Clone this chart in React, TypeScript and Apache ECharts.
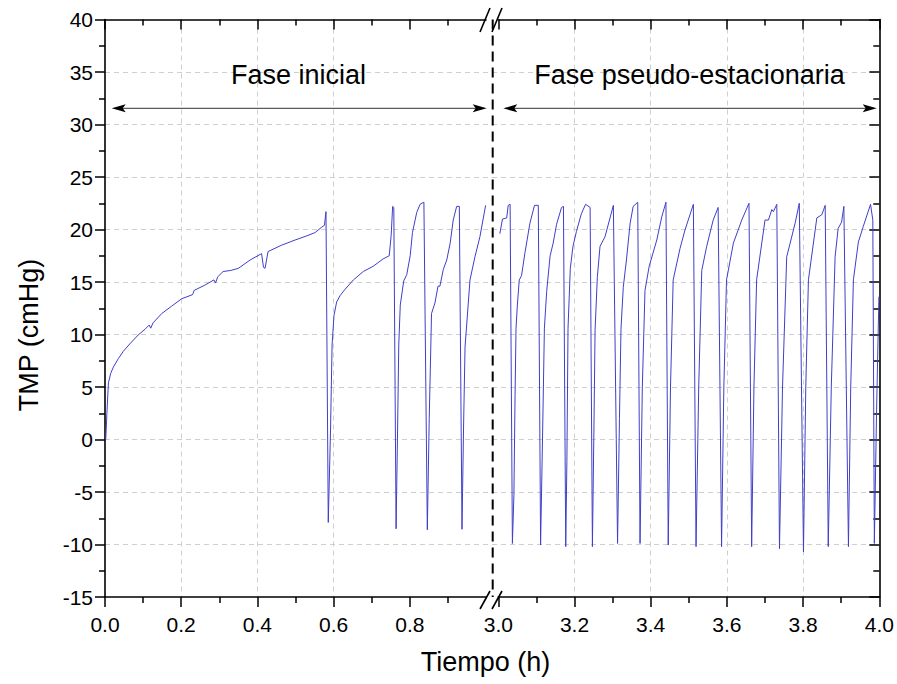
import React, { useEffect, useRef } from "react";
import * as echarts from "echarts";

// ---- Data (time in h, TMP in cmHg) ----
const initialPhase: [number, number][] = [
  [0.002, 0.0], [0.005, 2.5], [0.009, 5.4], [0.015, 6.3], [0.022, 6.9], [0.035, 7.7],
  [0.048, 8.4], [0.065, 9.1], [0.087, 9.95], [0.105, 10.5], [0.116, 10.9], [0.120, 10.6],
  [0.126, 11.1], [0.149, 12.0], [0.175, 12.7], [0.201, 13.4], [0.230, 13.8], [0.234, 14.2],
  [0.262, 14.7], [0.286, 15.2], [0.290, 14.9], [0.296, 15.5], [0.310, 16.0], [0.330, 16.1],
  [0.350, 16.3], [0.381, 17.1], [0.411, 17.7], [0.416, 16.4], [0.420, 16.3], [0.428, 17.9],
  [0.463, 18.5], [0.499, 19.0], [0.530, 19.4], [0.551, 19.7], [0.568, 20.2], [0.576, 20.4],
  [0.580, 21.7], [0.586, -7.9], [0.592, 1.0], [0.596, 9.0], [0.601, 11.8], [0.608, 13.1],
  [0.617, 13.7], [0.630, 14.3], [0.652, 15.2], [0.678, 16.0], [0.704, 16.5], [0.730, 17.2],
  [0.746, 17.5], [0.751, 19.4], [0.755, 22.2], [0.758, 22.1], [0.764, -8.5], [0.768, 1.0],
  [0.771, 9.0], [0.775, 12.8], [0.784, 15.1], [0.792, 15.7], [0.801, 17.5], [0.807, 19.7],
  [0.818, 21.6], [0.827, 22.4], [0.837, 22.6], [0.846, -8.6], [0.851, 2.0], [0.857, 12.0],
  [0.866, 13.0], [0.874, 14.6], [0.879, 14.6], [0.888, 16.2], [0.897, 17.1], [0.906, 18.7],
  [0.914, 20.9], [0.923, 22.2], [0.930, 22.2], [0.937, -8.55], [0.941, 1.0], [0.945, 8.8],
  [0.958, 15.2], [0.971, 17.4], [0.984, 19.3], [0.999, 22.3],
];

const stationaryPhase: [number, number][] = [
  [3.004, 19.6], [3.011, 21.0], [3.022, 21.1], [3.026, 22.3], [3.031, 22.4], [3.037, -9.9],
  [3.041, -5.3], [3.044, 4.2], [3.0465, 10.6], [3.050, 12.8], [3.055, 15.2], [3.061, 15.6],
  [3.070, 17.8], [3.083, 20.6], [3.095, 22.3], [3.105, 22.3], [3.111, -10.05], [3.1165, 1.0],
  [3.121, 10.6], [3.127, 14.1], [3.136, 17.5], [3.144, 18.7], [3.153, 20.5], [3.166, 22.1],
  [3.171, 22.2], [3.177, -10.2], [3.180, -2.1], [3.183, 10.6], [3.189, 16.3], [3.196, 18.4],
  [3.205, 19.8], [3.218, 21.5], [3.229, 22.4], [3.241, 22.1], [3.247, -10.2], [3.251, 1.0],
  [3.254, 10.4], [3.260, 15.5], [3.267, 18.4], [3.280, 19.3], [3.302, 22.3], [3.313, -9.9],
  [3.318, 2.0], [3.322, 10.5], [3.328, 14.5], [3.336, 17.0], [3.346, 20.6], [3.354, 22.2],
  [3.366, 22.6], [3.372, -9.9], [3.378, 5.0], [3.385, 14.2], [3.396, 16.5], [3.416, 19.0],
  [3.429, 21.2], [3.440, 22.6], [3.446, -10.05], [3.452, 5.0], [3.459, 15.2], [3.477, 18.2],
  [3.490, 19.95], [3.512, 22.4], [3.519, -10.2], [3.526, 5.0], [3.534, 16.1], [3.547, 18.4],
  [3.564, 20.9], [3.577, 22.1], [3.586, -10.2], [3.592, 5.0], [3.599, 15.2], [3.617, 18.7],
  [3.639, 20.9], [3.658, 22.5], [3.665, -10.2], [3.671, 5.0], [3.678, 15.2], [3.700, 20.9],
  [3.709, 20.9], [3.718, 21.9], [3.722, 21.7], [3.731, 22.4], [3.738, -10.4], [3.746, 5.0],
  [3.757, 17.4], [3.766, 18.7], [3.779, 20.6], [3.790, 22.5], [3.801, -10.7], [3.807, 5.0],
  [3.814, 15.2], [3.836, 21.1], [3.849, 21.4], [3.858, 22.3], [3.866, -10.2], [3.874, 5.0],
  [3.884, 17.4], [3.892, 20.1], [3.901, 20.7], [3.907, 22.2], [3.919, -10.2], [3.925, 5.0],
  [3.932, 15.2], [3.945, 18.8], [3.958, 20.3], [3.977, 22.4], [3.983, 20.9], [3.987, -9.9],
  [3.993, 3.0], [3.999, 13.6],
];

const leftTicks = [0, 0.2, 0.4, 0.6, 0.8];
const rightTicks = [3.0, 3.2, 3.4, 3.6, 3.8, 4.0];
const leftRange = [0, 1.0];
const rightRange = [3.0, 4.0];
const xStep = 0.2;
const yMin = -15;
const yMax = 40;
const yStep = 5;
const phaseLabels = ["Fase inicial", "Fase pseudo-estacionaria"];
const xTitle = "Tiempo (h)";
const yTitle = "TMP (cmHg)";

const FONT = '"Liberation Sans", Arial, Helvetica, sans-serif';

export default function App() {
  const ref = useRef<HTMLDivElement>(null);

  useEffect(() => {
    if (!ref.current) return;
    const chart = echarts.init(ref.current, null, { renderer: "svg" });

    const PL = 105, PR = 879.3, PT = 19.5, PB = 597;
    const segW = 381;
    const rightStart = PR - segW;
    const gridLine = { show: true, showMinLine: false, showMaxLine: false, lineStyle: { color: "#cfcfcf", type: [5, 4], width: 1 } };
    const axisLineStyle = { color: "#000", width: 1.6 };
    const lineColor = "#3f3fc8";

    const bottomX = (gridIndex: number, range: number[], ticks: number[], grid: boolean) => ({
      type: "value",
      gridIndex,
      position: "bottom",
      min: range[0],
      max: range[1],
      interval: xStep,
      axisLine: { show: true, onZero: false, lineStyle: axisLineStyle },
      axisTick: { show: true, customValues: ticks, length: 10, lineStyle: { color: "#000", width: 1.5 } },
      minorTick: { show: true, splitNumber: 2, length: 6, lineStyle: { color: "#000", width: 1.5 } },
      axisLabel: {
        show: true,
        customValues: ticks,
        formatter: (v: number) => v.toFixed(1),
        fontSize: 21,
        fontFamily: FONT,
        color: "#000",
        margin: 17,
      },
      splitLine: grid ? gridLine : { show: false },
    });
    const topX = (gridIndex: number, range: number[], ticks: number[]) => ({
      type: "value",
      gridIndex,
      position: "top",
      min: range[0],
      max: range[1],
      interval: xStep,
      axisLine: { show: true, onZero: false, lineStyle: axisLineStyle },
      axisTick: { show: true, inside: true, customValues: ticks, length: 10, lineStyle: { color: "#000", width: 1.5 } },
      minorTick: { show: true, splitNumber: 2, length: 6, lineStyle: { color: "#000", width: 1.5 } },
      axisLabel: { show: false },
      splitLine: { show: false },
    });

    const slash = (x1: number, y1: number, x2: number, y2: number) => ({
      type: "line",
      shape: { x1, y1, x2, y2 },
      style: { stroke: "#000", lineWidth: 1.6 },
      z: 100,
    });
    const arrowY = 108.3;
    const arrow = (xa: number, xb: number) => [
      { type: "line", shape: { x1: xa + 10, y1: arrowY, x2: xb - 10, y2: arrowY }, style: { stroke: "#333", lineWidth: 1 }, z: 100 },
      { type: "polygon", shape: { points: [[xa, arrowY], [xa + 14, arrowY - 4], [xa + 11, arrowY], [xa + 14, arrowY + 4]] }, style: { fill: "#000" }, z: 100 },
      { type: "polygon", shape: { points: [[xb, arrowY], [xb - 14, arrowY - 4], [xb - 11, arrowY], [xb - 14, arrowY + 4]] }, style: { fill: "#000" }, z: 100 },
    ];
    const txt = (text: string, x: number, y: number, rotation = 0) => ({
      type: "text",
      x,
      y,
      rotation,
      style: { text, fill: "#000", fontSize: 27, fontFamily: FONT, align: "center", verticalAlign: "middle" },
      z: 100,
    });

    const option: any = {
      animation: false,
      backgroundColor: "#fff",
      grid: [
        { left: PL, top: PT, width: PR - PL, height: PB - PT },
        { left: PL, top: PT, width: segW, height: PB - PT },
        { left: rightStart, top: PT, width: segW, height: PB - PT },
      ],
      xAxis: [
        { type: "value", gridIndex: 0, min: 0, max: 1, show: false },
        bottomX(1, leftRange, leftTicks, true),
        topX(1, leftRange, leftTicks),
        bottomX(2, rightRange, rightTicks, true),
        topX(2, rightRange, rightTicks),
      ],
      yAxis: [
        {
          type: "value",
          gridIndex: 0,
          position: "left",
          min: yMin,
          max: yMax,
          interval: yStep,
          axisLine: { show: true, onZero: false, lineStyle: axisLineStyle },
          axisTick: { show: true, length: 10, lineStyle: { color: "#000", width: 1.5 } },
          minorTick: { show: true, splitNumber: 2, length: 6, lineStyle: { color: "#000", width: 1.5 } },
          axisLabel: { show: true, fontSize: 21, fontFamily: FONT, color: "#000", margin: 12 },
          splitLine: gridLine,
        },
        {
          type: "value",
          gridIndex: 0,
          position: "right",
          min: yMin,
          max: yMax,
          interval: yStep,
          axisLine: { show: true, onZero: false, lineStyle: axisLineStyle },
          axisTick: { show: true, inside: true, length: 10, lineStyle: { color: "#000", width: 1.5 } },
          minorTick: { show: true, splitNumber: 2, length: 6, lineStyle: { color: "#000", width: 1.5 } },
          axisLabel: { show: false },
          splitLine: { show: false },
        },
        { type: "value", gridIndex: 1, min: yMin, max: yMax, interval: yStep, show: false },
        { type: "value", gridIndex: 2, min: yMin, max: yMax, interval: yStep, show: false },
      ],
      series: [
        {
          type: "line",
          xAxisIndex: 1,
          yAxisIndex: 2,
          data: initialPhase,
          symbol: "none",
          showSymbol: false,
          clip: true,
          lineStyle: { color: lineColor, width: 1 },
          z: 5,
        },
        {
          type: "line",
          xAxisIndex: 3,
          yAxisIndex: 3,
          data: stationaryPhase,
          symbol: "none",
          showSymbol: false,
          clip: true,
          lineStyle: { color: lineColor, width: 1 },
          z: 5,
        },
      ],
      graphic: [
        {
          type: "line",
          shape: { x1: 492.7, y1: PT, x2: 492.7, y2: PB },
          style: { stroke: "#000", lineWidth: 2, lineDash: [10, 6] },
          z: 50,
        },
        slash(480, 609, 490, 591),
        slash(492, 609, 502, 591),
        slash(480, 32, 490, 8),
        slash(492, 32, 502, 8),
        ...arrow(111.7, 486.7),
        ...arrow(503.3, 876.7),
        txt(phaseLabels[0], 298.5, 75),
        txt(phaseLabels[1], 689.5, 75),
        txt(xTitle, 485.5, 662),
        txt(yTitle, 28.5, 335, Math.PI / 2),
      ],
    };

    chart.setOption(option);
    return () => chart.dispose();
  }, []);

  return (
    <div
      ref={ref}
      style={{ position: "fixed", left: 0, top: 0, width: 897, height: 684, background: "#fff" }}
    />
  );
}
